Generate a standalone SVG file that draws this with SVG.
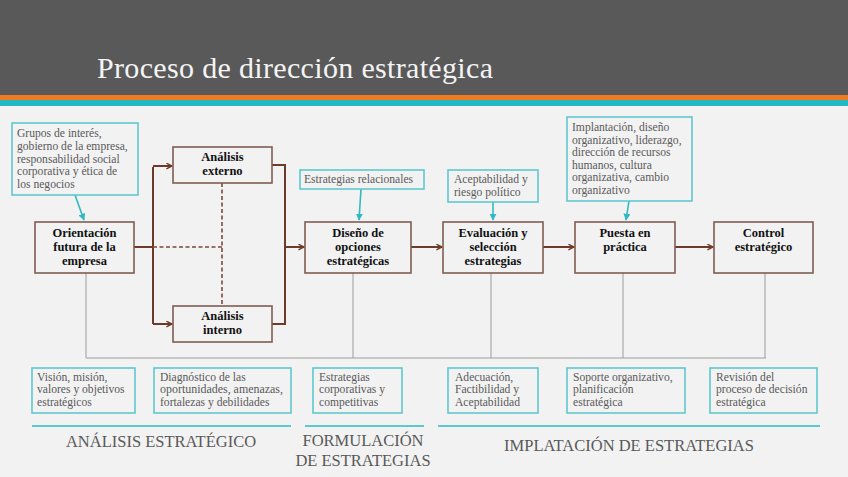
<svg xmlns="http://www.w3.org/2000/svg" width="848" height="477" viewBox="0 0 848 477">
<defs>
<marker id="brownArrow" viewBox="0 0 10 10" refX="9" refY="5" markerWidth="7" markerHeight="7" markerUnits="userSpaceOnUse" orient="auto">
<path d="M1,1 L9,5 L1,9" fill="none" stroke="#6e3b2b" stroke-width="2"/>
</marker>
<marker id="tealArrow" viewBox="0 0 10 10" refX="9" refY="5" markerWidth="7" markerHeight="7" markerUnits="userSpaceOnUse" orient="auto">
<path d="M0,0 L10,5 L0,10 Z" fill="#2fb9c4"/>
</marker>
<style>
.node rect{fill:#f2f2f2;stroke:#7f5d52;stroke-width:1.6}
.node text{font-family:"Liberation Serif",serif;font-weight:bold;font-size:12.5px;fill:#111;text-anchor:middle}
.note rect{fill:#f2f2f2;stroke:#5ec7cf;stroke-width:1.6}
.note text{font-family:"Liberation Serif",serif;font-size:11.6px;fill:#595959}
.flow{fill:none;stroke:#6e3b2b;stroke-width:2}
.dash{fill:none;stroke:#7a4a3a;stroke-width:1.6;stroke-dasharray:4,2.5}
.grey{fill:none;stroke:#9c9c9c;stroke-width:1}
.callout{fill:none;stroke:#2fb9c4;stroke-width:1.6}
.band{stroke:#5ec7cf;stroke-width:2}
.sect{font-family:"Liberation Serif",serif;font-size:16.5px;fill:#595959;text-anchor:middle}
</style>
</defs>
<rect x="0" y="0" width="848" height="477" fill="#f2f2f2"/>
<rect x="0" y="0" width="848" height="95" fill="#595959"/>
<rect x="0" y="95" width="848" height="5" fill="#ee7a22"/>
<rect x="0" y="100" width="848" height="6" fill="#22b7c2"/>
<text x="97" y="78" font-family="Liberation Serif, serif" font-size="30" fill="#f4f4f4" textLength="396" lengthAdjust="spacing">Proceso de dirección estratégica</text>

<g id="connectors">
<path class="grey" d="M86,273 V358 M353,273 V358 M491,273 V358 M623,273 V358 M765,273 V358 M86,358 H766"/>
<path class="flow" d="M134,247 H153"/>
<path class="flow" d="M153,167 V324"/>
<path class="flow" d="M153,166 H172" marker-end="url(#brownArrow)"/>
<path class="flow" d="M153,324 H172" marker-end="url(#brownArrow)"/>
<path class="flow" d="M272,165 H285 V324 H272"/>
<path class="flow" d="M285,247 H304" marker-end="url(#brownArrow)"/>
<path class="dash" d="M153,247 H222 M222,183 V306"/>
<path class="flow" d="M411,247 H442" marker-end="url(#brownArrow)"/>
<path class="flow" d="M543,247 H574" marker-end="url(#brownArrow)"/>
<path class="flow" d="M675,247 H713" marker-end="url(#brownArrow)"/>
<path class="callout" d="M75,195 L84,220" marker-end="url(#tealArrow)"/>
<path class="callout" d="M361,189 L359,220" marker-end="url(#tealArrow)"/>
<path class="callout" d="M493,202 L493,220" marker-end="url(#tealArrow)"/>
<path class="callout" d="M629,201 L626,220" marker-end="url(#tealArrow)"/>
</g>

<g id="node-orientacion" class="node">
<rect x="35" y="222" width="99" height="51"/>
<text x="84.5" y="237">Orientación</text>
<text x="84.5" y="251">futura de la</text>
<text x="84.5" y="265">empresa</text>
</g>
<g id="node-externo" class="node">
<rect x="173" y="147" width="99" height="36"/>
<text x="222.5" y="161">Análisis</text>
<text x="222.5" y="175">externo</text>
</g>
<g id="node-interno" class="node">
<rect x="173" y="306" width="99" height="36"/>
<text x="222.5" y="320">Análisis</text>
<text x="222.5" y="334">interno</text>
</g>
<g id="node-diseno" class="node">
<rect x="305" y="222" width="106" height="51"/>
<text x="358" y="237">Diseño de</text>
<text x="358" y="251">opciones</text>
<text x="358" y="265">estratégicas</text>
</g>
<g id="node-evaluacion" class="node">
<rect x="443" y="222" width="100" height="51"/>
<text x="493" y="237">Evaluación y</text>
<text x="493" y="251">selección</text>
<text x="493" y="265">estrategias</text>
</g>
<g id="node-puesta" class="node">
<rect x="575" y="222" width="100" height="51"/>
<text x="625" y="237">Puesta en</text>
<text x="625" y="251">práctica</text>
</g>
<g id="node-control" class="node">
<rect x="714" y="222" width="99" height="51"/>
<text x="763.5" y="237">Control</text>
<text x="763.5" y="251">estratégico</text>
</g>

<g id="note-grupos" class="note">
<rect x="12" y="123" width="126" height="72"/>
<text x="17" y="137">Grupos de interés,</text>
<text x="17" y="150">gobierno de la empresa,</text>
<text x="17" y="163">responsabilidad social</text>
<text x="17" y="175">corporativa y ética de</text>
<text x="17" y="188">los negocios</text>
</g>
<g id="note-relacionales" class="note">
<rect x="300" y="170" width="124" height="19"/>
<text x="304" y="183">Estrategias relacionales</text>
</g>
<g id="note-aceptabilidad" class="note">
<rect x="448" y="170" width="90" height="32"/>
<text x="454" y="183">Aceptabilidad y</text>
<text x="454" y="196">riesgo político</text>
</g>
<g id="note-implantacion" class="note">
<rect x="567" y="117" width="125" height="84"/>
<text x="572" y="131">Implantación, diseño</text>
<text x="572" y="144">organizativo, liderazgo,</text>
<text x="572" y="156">dirección de recursos</text>
<text x="572" y="169">humanos, cultura</text>
<text x="572" y="181">organizativa, cambio</text>
<text x="572" y="194">organizativo</text>
</g>

<g id="box-vision" class="note">
<rect x="32" y="368" width="103" height="45"/>
<text x="37" y="381">Visión, misión,</text>
<text x="37" y="393">valores y objetivos</text>
<text x="37" y="406">estratégicos</text>
</g>
<g id="box-diagnostico" class="note">
<rect x="154" y="368" width="137" height="45"/>
<text x="160" y="381">Diagnóstico de las</text>
<text x="160" y="393" textLength="123" lengthAdjust="spacingAndGlyphs">oportunidades, amenazas,</text>
<text x="160" y="406">fortalezas y debilidades</text>
</g>
<g id="box-corporativas" class="note">
<rect x="313" y="368" width="89" height="45"/>
<text x="319" y="381">Estrategias</text>
<text x="319" y="393">corporativas y</text>
<text x="319" y="406">competitivas</text>
</g>
<g id="box-adecuacion" class="note">
<rect x="448" y="368" width="90" height="45"/>
<text x="455" y="381">Adecuación,</text>
<text x="455" y="393">Factibilidad y</text>
<text x="455" y="406">Aceptabilidad</text>
</g>
<g id="box-soporte" class="note">
<rect x="567" y="368" width="118" height="45"/>
<text x="573" y="381">Soporte organizativo,</text>
<text x="573" y="393">planificación</text>
<text x="573" y="406">estratégica</text>
</g>
<g id="box-revision" class="note">
<rect x="710" y="368" width="107" height="45"/>
<text x="716" y="381">Revisión del</text>
<text x="716" y="393">proceso de decisión</text>
<text x="716" y="406">estratégica</text>
</g>

<g id="sections">
<line class="band" x1="32" y1="426" x2="291" y2="426"/>
<line class="band" x1="305" y1="426" x2="424" y2="426"/>
<line class="band" x1="438" y1="426" x2="820" y2="426"/>
<text class="sect" x="161" y="447">ANÁLISIS ESTRATÉGICO</text>
<text class="sect" x="363" y="446">FORMULACIÓN</text>
<text class="sect" x="363" y="466">DE ESTRATEGIAS</text>
<text class="sect" x="629" y="451">IMPLATACIÓN DE ESTRATEGIAS</text>
</g>
</svg>
